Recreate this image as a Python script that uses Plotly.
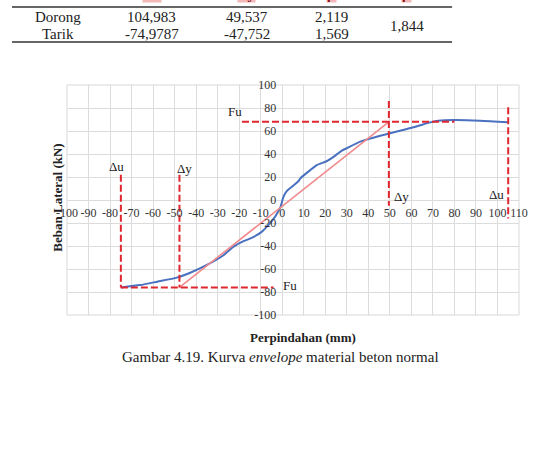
import plotly.graph_objects as go

# kurva envelope (perpindahan mm, beban kN)
env_x = [-75.0, -66, -58, -49, -43, -35, -27.3, -22.6, -18, -14, -9.4, -6.4, -3.3, -0.9,
         0.6, 2.2, 4.5, 7.6, 8.4, 13, 16.1, 20.8, 23.8, 27.7, 30, 36.2, 45.5, 50.2,
         61, 68.8, 72.6, 79.6, 92, 105]
env_y = [-76.0, -74, -71, -67.5, -63.5, -56.5, -48, -40.6, -35.8, -32.8, -27.5, -21.7, -14.5, -6.5,
         3, 8, 11.6, 16.5, 18.8, 26, 30.4, 33.9, 37.5, 43, 45, 50.7, 55.9, 58,
         63.2, 67.5, 69, 69.6, 69, 67.5]

# garis bilinear
bil_x = [-47.752, 49.537]
bil_y = [-76.0, 68.0]

# nilai tabel
rows = ["Dorong", "Tarik"]
du = [104.983, -74.9787]
dy = [49.537, -47.752]
mu = [2.119, 1.569]
mu_avg = 1.844
fu = [68.0, -76.0]

x_ticks = list(range(-100, 111, 10))
x_ticktext = ["-100", "-90", "-80", "-70", "-60", "-50", "-40", "-30", "-20", "-10", "0",
              "10", "20", "30", "40", "50", "60", "70", "80", "90", "100", "110"]
y_ticks = list(range(-100, 101, 20))
y_ticktext = ["-100", "-80", "-60", "-40", "-20", "0", "20", "40", "60", "80", "100"]

SERIF = "Liberation Serif"
RED = "#e0262e"

fig = go.Figure()

fig.add_trace(go.Scatter(x=env_x, y=env_y, mode="lines",
                         line=dict(color="#4a70c0", width=2, shape="spline", smoothing=0.6),
                         showlegend=False, hoverinfo="skip"))
fig.add_trace(go.Scatter(x=bil_x, y=bil_y, mode="lines",
                         line=dict(color="#f08a8c", width=1.6),
                         showlegend=False, hoverinfo="skip"))

# garis putus-putus Fu, Δy, Δu
dashed = [
    ([-18.7, 80], [fu[0], fu[0]]),
    ([du[1], -4], [fu[1], fu[1]]),
    ([du[1], du[1]], [22, fu[1]]),
    ([dy[1], dy[1]], [22, fu[1]]),
    ([dy[0], dy[0]], [86, -5]),
    ([du[0], du[0]], [80.6, -16]),
]
for xs, ys in dashed:
    fig.add_trace(go.Scatter(x=xs, y=ys, mode="lines",
                             line=dict(color=RED, width=2, dash="7px,3px"),
                             showlegend=False, hoverinfo="skip"))

labels = [("Δu", -77, 29), ("Δy", -45.5, 27), ("Fu", -22, 77),
          ("Δy", 55.6, 3), ("Δu", 99.4, 4.5), ("Fu", 3.5, -74)]
for t, lx, ly in labels:
    fig.add_annotation(x=lx, y=ly, text=t, showarrow=False, xanchor="center", yanchor="middle",
                       font=dict(family=SERIF, size=13, color="#222"))


def note(x, y, text, size=15, **kw):
    fig.add_annotation(xref="paper", yref="paper", x=x, y=y, text=text, showarrow=False,
                       xanchor="center", yanchor=kw.pop("yanchor", "middle"),
                       font=dict(family=SERIF, size=size, color=kw.pop("color", "#222")), **kw)


# judul sumbu dan keterangan gambar
note(-0.02, 0.51, "<b>Beban Lateral (kN)</b>", size=13, textangle=-90)
note(0.522, -0.0957, "<b>Perpindahan (mm)</b>", size=13)
note(0.473, -0.1826, "Gambar 4.19. Kurva <i>envelope</i> material beton normal")


# potongan tabel di atas
def fmt(v):
    return f"{v}".replace(".", ",")


col_x = [0.188, 0.398, 0.586]
row_y = [1.2957, 1.2217]
for i, r in enumerate(rows):
    note(-0.0199, row_y[i], r)
    for cx, v in zip(col_x, [du[i], dy[i], mu[i]]):
        note(cx, row_y[i], fmt(v))
note(0.752, 1.2565, fmt(mu_avg))
# header row is cut off by the page top, only its lower edge shows
for cx, h in zip(col_x + [0.752], ["Δu", "Δy", "μ", "μ"]):
    note(cx, 1.3565, f"<b>{h}</b>", yanchor="bottom", bgcolor="#f5b8b8", color="#8a1010",
         borderpad=0)
for py in [1.339, 1.187]:
    fig.add_shape(type="line", xref="paper", yref="paper", x0=-0.1217, x1=0.852, y0=py, y1=py,
                  line=dict(color="#333", width=1.5))

fig.add_shape(type="rect", xref="paper", yref="paper", x0=0, x1=1, y0=0, y1=1,
              line=dict(color="#d9d9d9", width=1), layer="below")

fig.update_layout(
    width=546, height=452,
    margin=dict(l=67, r=27, t=85, b=137),
    paper_bgcolor="white", plot_bgcolor="white",
    font=dict(family=SERIF, size=12, color="#333"),
    xaxis=dict(range=[-100, 110], tickvals=x_ticks, ticktext=x_ticktext, tickangle=0,
               showgrid=True, gridcolor="#dcdcdc", gridwidth=1, automargin=False,
               zeroline=False, showline=False, ticks="", anchor="free", position=0.5,
               ticklabelstandoff=4, tickfont=dict(family=SERIF, size=12, color="#333")),
    yaxis=dict(range=[-100, 100], tickvals=y_ticks, ticktext=y_ticktext,
               showgrid=True, gridcolor="#dcdcdc", gridwidth=1, automargin=False,
               zeroline=False, showline=False, ticks="", anchor="free", position=100 / 210,
               ticklabelstandoff=6, tickfont=dict(family=SERIF, size=12, color="#333")),
)

# drop the default 8px body margin so the figure fills the window from the corner
fig.write_html("out.html", config={"displayModeBar": False},
               post_script="document.body.style.margin = '0';")
